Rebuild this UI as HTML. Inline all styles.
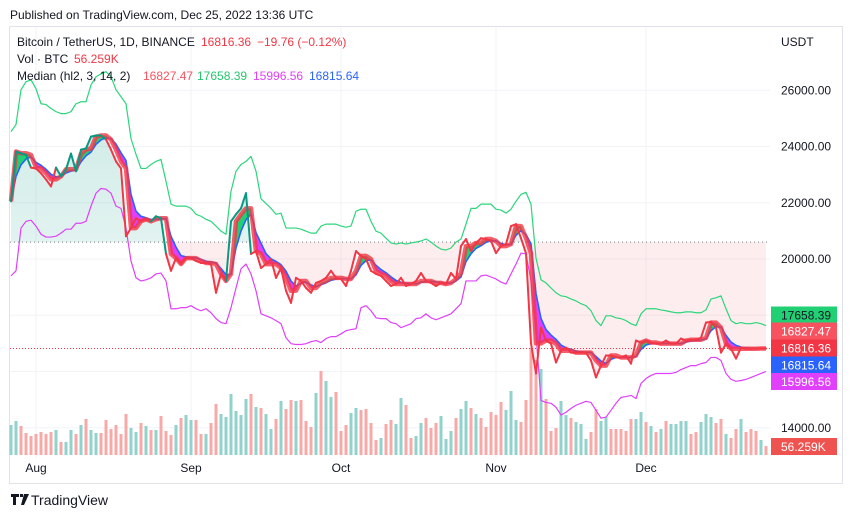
<!DOCTYPE html>
<html><head><meta charset="utf-8"><style>
html,body{margin:0;padding:0;background:#fff;}
svg{display:block;font-family:"Liberation Sans",sans-serif;}
</style></head><body>
<svg id="chart" width="851" height="518" viewBox="0 0 851 518">
<text x="10" y="19" font-size="12" fill="#131722">Published on TradingView.com, Dec 25, 2022 13:36 UTC</text>
<rect x="9.5" y="26.5" width="833" height="457" fill="none" stroke="#e0e3eb"/>
<g id="grid"></g>
<g id="fills"></g>
<g id="vols"></g>
<g id="lines"></g>
<g id="axis"></g>
<g id="taxis"></g>
<g font-size="12">
 <text x="17" y="46" fill="#131722">Bitcoin / TetherUS, 1D, BINANCE</text>
 <text x="201" y="46" fill="#f23645">16816.36</text>
 <text x="257" y="46" fill="#f23645">−19.76 (−0.12%)</text>
 <text x="17" y="63" fill="#131722">Vol · BTC</text>
 <text x="74" y="63" fill="#f23645">56.259K</text>
 <text x="17" y="80" fill="#131722">Median (hl2, 3, 14, 2)</text>
 <text x="143" y="80" fill="#f7525f">16827.47</text>
 <text x="197" y="80" fill="#22c66e">17658.39</text>
 <text x="253" y="80" fill="#e040fb">15996.56</text>
 <text x="309" y="80" fill="#2962ff">16815.64</text>
</g>
<g>
 <path d="M11 494h8v3h-3v8h-3v-8h-2z M20 494h3v3h-3z M24 494h5l-5 11h-3z" fill="#131722"/>
 <text x="31" y="505" font-size="14" fill="#131722">TradingView</text>
</g>
</svg>
<script>
const closes=[22050,23820,23760,23700,23250,23220,23050,22830,22580,23250,22940,23190,23750,23120,23890,23930,24350,24390,24390,24250,23890,23470,23220,20810,
21100,21450,21340,21410,21340,21520,21450,20180,19580,20030,19820,20030,20030,19930,19860,19860,19820,18800,19470,19220,21340,21590,21800,22340,20180,20280,
19680,19820,20000,19330,19680,18870,18440,19330,19220,18970,18800,19150,19220,19330,19580,19330,19290,19040,19580,20280,20110,20000,19580,19470,19400,19220,
19040,19110,19330,19040,19110,19220,19500,19220,19150,19040,19150,19110,19500,19290,20460,20710,20280,20570,20740,20710,20640,20210,20460,20530,21170,21240,
20740,20200,17000,15930,17560,17100,16990,16320,16740,16850,16670,16670,16670,16670,16390,15790,16210,16570,16570,16500,16500,16570,16280,17100,17030,17100,
17030,16990,16990,17100,16990,16990,17170,17100,17130,17130,17200,17740,17770,17560,16670,16990,16810,16460,16850,16810,16810,16816,16816,16816];
const upper=[24530,24780,26020,26300,26370,26050,25520,25490,25350,25240,25170,25170,25240,25520,25590,25590,26190,26480,26580,26660,26480,26020,25770,25520,
24280,23720,23220,23220,23360,23470,23540,22760,21950,21880,21880,21880,21800,21590,21520,21410,21340,21170,20990,20880,22410,23120,23360,23470,23650,23120,
22140,21970,21800,21590,21630,21100,21100,21100,21060,20990,20920,20920,21170,21240,21240,21240,21170,21130,21170,21700,21770,21770,21340,20990,20920,20740,
20570,20530,20570,20530,20570,20600,20640,20710,20600,20460,20350,20320,20390,20600,20710,21240,21800,21800,21950,21950,21950,21770,21740,21630,21770,22050,
22300,22370,21950,20030,19260,19150,18970,18800,18690,18660,18580,18510,18410,18340,18160,17810,17630,17980,17980,17910,17880,17810,17700,17630,18050,18230,
18230,18230,18190,18160,18120,18090,18090,18120,18120,18090,18090,18190,18580,18620,18690,18230,17810,17700,17740,17700,17700,17740,17700,17630];
const lower=[19400,19580,21100,21340,21380,21170,20880,20780,20780,20810,20920,21060,21060,21270,21270,21340,21880,22340,22510,22480,22340,21880,21800,21100,
19930,19330,19220,19260,19330,19470,19500,19220,18230,18230,18270,18270,18340,18230,18160,18230,18090,17880,17740,17700,18270,18970,19650,19820,19470,18870,
18050,17980,17910,17810,17700,17200,16990,16960,16960,16990,17060,17100,17030,17170,17240,17240,17340,17450,17490,17520,18270,18340,18160,17910,17880,17880,
17740,17700,17560,17630,17700,17880,17910,18050,17910,17840,17910,17980,18050,18230,18410,19220,19220,19220,19400,19430,19360,19290,19180,19110,19470,19820,
20210,20180,19220,17340,14970,14900,14870,14730,14450,14550,14690,14800,14870,14940,14900,14620,14340,14380,14620,14870,15080,15110,15150,15040,15575,15750,
15860,15930,15930,15930,15930,15970,16070,16140,16210,16210,16280,16320,16500,16500,16390,15930,15720,15650,15680,15720,15790,15860,15930,16000];
const volumesK=[180,204,174,132,114,126,138,126,138,150,78,78,150,126,180,216,150,132,132,210,156,180,126,246,162,138,192,174,150,150,
234,144,120,180,222,240,210,210,126,126,192,306,246,228,366,264,240,336,366,288,282,246,156,216,324,276,330,324,330,204,
168,372,504,444,348,378,144,180,252,282,270,276,192,90,102,186,210,186,342,300,102,114,192,
222,162,192,234,96,144,222,276,324,282,246,222,168,258,240,318,270,384,210,198,330,642,570,516,336,144,162,324,240,222,
198,186,96,138,276,204,228,156,156,156,144,216,216,258,198,174,138,156,204,186,186,204,204,126,138,198,246,228,192,216,
126,102,156,216,138,156,144,90,54];
const volumeDirs="ggrrrrrrrgrggrgrggrrrrrrggrgrgrrrgrggrrgrrggggggrgrggrgrrgrrrgrggrrrggrrrrgrrggrrgg"+"rrrgggrggrgrrrrrgggrrrrgrrrggrgggrrggrrrrrggrgrgrggggrrgggrrgrrgrrrgr";
const priceTicks=[14000,16000,18000,20000,22000,24000,26000];
const monthLabels=["Aug","Sep","Oct","Nov","Dec"];
const monthDayIdx=[5,36,66,97,127];
const baselinePrice=20600;
const lastPrice=16816.36;
const axisBadges=[["17658.39",17658.39,"#22d074","#131722"],["16827.47",16827.47,"#f7525f","#fff"],["16816.36",16816.36,"#f23645","#fff"],["16815.64",16815.64,"#2962ff","#fff"],["15996.56",15996.56,"#e040fb","#fff"]];
const volBadge="56.259K";

const NS="http://www.w3.org/2000/svg";
const X=i=>11+5*i;
const Y=p=>259-(p-20000)*0.028125;
const VY=v=>455-v/6;
function mk(tag,attrs,parent){const e=document.createElementNS(NS,tag);for(const k in attrs)e.setAttribute(k,attrs[k]);parent.appendChild(e);return e;}
const grid=document.getElementById('grid'),fills=document.getElementById('fills'),vols=document.getElementById('vols'),lines=document.getElementById('lines'),axis=document.getElementById('axis'),taxis=document.getElementById('taxis');
const PL=10,PR=770;
priceTicks.forEach(p=>{const l=mk('line',{x1:PL,x2:PR,y1:Y(p),y2:Y(p),stroke:'#f0f3fa'},grid);

});
monthDayIdx.forEach((d,k)=>{const l=mk('line',{x1:X(d),x2:X(d),y1:27,y2:458,stroke:'#f0f3fa'},grid);


const t=mk('text',{x:X(d),y:472,'font-size':12,fill:'#131722','text-anchor':'middle'},taxis);t.textContent=monthLabels[k];

});
const n=closes.length;
// baseline fill
let pts=closes.map((c,i)=>X(i)+','+Y(c)).join(' ');
const by=Y(baselinePrice);
const poly=`${X(0)},${by} ${pts} ${X(n-1)},${by}`;
const defs=mk('defs',{},fills);
const cpA=mk('clipPath',{id:'ca'},defs);mk('rect',{x:0,y:0,width:851,height:by},cpA);
const cpB=mk('clipPath',{id:'cb'},defs);mk('rect',{x:0,y:by,width:851,height:300},cpB);
const lg=mk('linearGradient',{id:'gg',x1:0,y1:0,x2:0,y2:1},defs);
mk('stop',{offset:'0','stop-color':'#089981','stop-opacity':'0.18'},lg);mk('stop',{offset:'1','stop-color':'#089981','stop-opacity':'0.04'},lg);
const fa=mk('polygon',{points:poly,fill:'url(#gg)','clip-path':'url(#ca)'},fills);


const fb=mk('polygon',{points:poly,fill:'rgba(242,54,69,0.09)','clip-path':'url(#cb)'},fills);


const bl=mk('line',{x1:PL,x2:PR,y1:by,y2:by,stroke:'#787b86','stroke-dasharray':'1 3'},fills);


// volumes
volumesK.forEach((v,i)=>{const up=volumeDirs[i]==='g';const r=mk('rect',{x:X(i)-1.5,y:VY(v),width:3,height:455-VY(v),fill:up?'#92d2cc':'#f7a9a7'},vols);

});
// indicators
const med=closes.map((c,i)=>{const a=closes.slice(Math.max(0,i-2),i+1).slice().sort((p,q)=>p-q);return a[Math.floor(a.length/2)];});
const ema=[];med.forEach((m,i)=>ema.push(i?ema[i-1]+0.5*(m-ema[i-1]):m));
for(let i=0;i<n-1;i++){const d=(med[i]+med[i+1])-(ema[i]+ema[i+1]);
const q=mk('polygon',{points:`${X(i)},${Y(med[i])} ${X(i+1)},${Y(med[i+1])} ${X(i+1)},${Y(ema[i+1])} ${X(i)},${Y(ema[i])}`,fill:d>=0?'#22d074':'#e040fb'},lines);

}
function pl(arr,color,w,name,op){const p=mk('polyline',{points:arr.map((v,i)=>X(i)+','+Y(v)).join(' '),fill:'none',stroke:color,'stroke-width':w,'stroke-linejoin':'round','stroke-opacity':op||1},lines);

return p;}
pl(upper,'#2bd67b',1.2,'upper-band-line');
pl(lower,'#e040fb',1.2,'lower-band-line');
pl(ema,'#2962ff',1.6,'ema-line');
pl(med,'#f23645',4.5,'median-line',0.8);
for(let i=0;i<n-1;i++){const s=mk('line',{x1:X(i),y1:Y(closes[i]),x2:X(i+1),y2:Y(closes[i+1]),stroke:(med[i+1]>=ema[i+1]&&i<50)?'#089981':'#f23645','stroke-width':2,'stroke-linecap':'round'},lines);

}
const lp=mk('line',{x1:PL,x2:PR,y1:Y(lastPrice),y2:Y(lastPrice),stroke:'#f23645','stroke-dasharray':'1 2'},lines);


// axis
const u=mk('text',{x:781,y:46,'font-size':12,fill:'#131722'},axis);u.textContent='USDT';


priceTicks.forEach(p=>{if(p===16000||p===18000)return;const t=mk('text',{x:781,y:Y(p)+4,'font-size':12,fill:'#131722'},axis);t.textContent=p.toFixed(2);

});
axisBadges.forEach(b=>{const yy=Y(b[1]);});
const badgeY=[315,331,348,365,381.5];
axisBadges.forEach((b,k)=>{const g=mk('g',{},axis);


mk('rect',{x:771,y:badgeY[k]-8.5,width:66,height:17,fill:b[2]},g);
const t=mk('text',{x:781,y:badgeY[k]+4.5,'font-size':12,fill:b[3]},g);t.textContent=b[0];});
const vg=mk('g',{},axis);


mk('rect',{x:771,y:438,width:66,height:17,fill:'#ef5350'},vg);
const vt=mk('text',{x:781,y:451,'font-size':12,fill:'#fff'},vg);vt.textContent=volBadge;
</script>
</body></html>
